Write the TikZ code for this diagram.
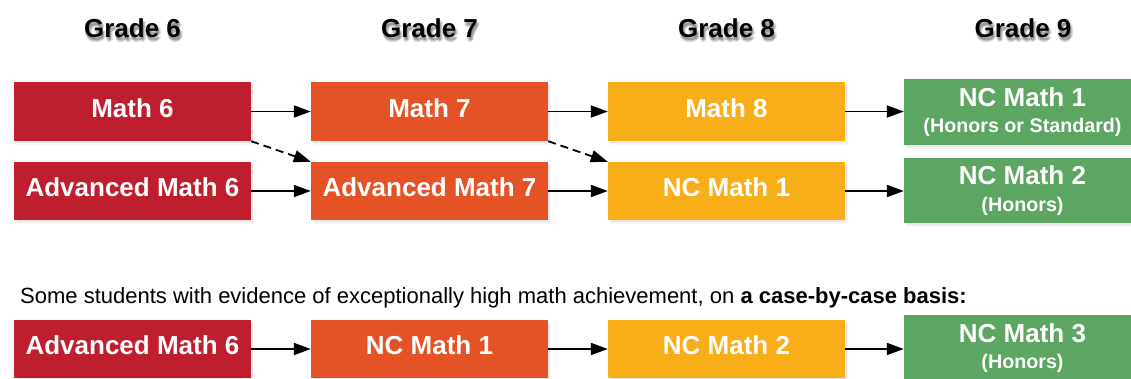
\documentclass[tikz,border=0pt]{standalone}
\usepackage{fontspec}
\setmainfont{Liberation Sans}
\usetikzlibrary{arrows.meta,shadows}
\definecolor{cred}{RGB}{190,30,46}
\definecolor{corange}{RGB}{229,82,37}
\definecolor{cyellow}{RGB}{248,174,24}
\definecolor{cgreen}{RGB}{93,165,98}
\newcommand{\subline}[1]{{\fontsize{19.7}{26.5}\selectfont #1}}
\begin{document}
\begin{tikzpicture}[x=1pt,y=-1pt,
  box/.style={rectangle, inner sep=0pt, minimum width=237pt, text=white,
    font=\bfseries\fontsize{26}{30}\selectfont, text height=17pt, text depth=6pt,
    drop shadow={shadow xshift=1.5pt, shadow yshift=-2pt, opacity=0.12},
    drop shadow={shadow xshift=3pt, shadow yshift=-3.5pt, opacity=0.07}},
  gbox/.style={rectangle, inner sep=0pt, minimum width=237pt, text=white, fill=cgreen,
    align=center, font=\bfseries\fontsize{26}{26.5}\selectfont,
    drop shadow={shadow xshift=1.5pt, shadow yshift=-2pt, opacity=0.12},
    drop shadow={shadow xshift=3pt, shadow yshift=-3.5pt, opacity=0.07}},
  hdr/.style={anchor=base, inner sep=0pt, font=\bfseries\fontsize{26}{30}\selectfont},
  hshadow/.style={hdr, text=black, opacity=0.12},
  arr/.style={line width=1.8pt, -{Triangle[length=17pt,width=12pt]}},
  darr/.style={arr, dash pattern=on 8pt off 5pt}
]
\useasboundingbox (0,0) rectangle (1131,378);
\clip (0,0) rectangle (1131,378);

% headers with soft shadows
\foreach \cx/\lab/\nm in {132.5/Grade 6/g6, 429.5/Grade 7/g7, 726.5/Grade 8/g8, 1023/Grade 9/g9}{
  \foreach \dx/\dy [count=\k] in {1/2,2/4,0/3,3/3,1/5}{
    \node[hshadow] (\nm s\k) at (\cx+\dx,37+\dy) {\lab};
  }
  \node[hdr] (\nm) at (\cx,37) {\lab};
}

% row 1
\node[box, fill=cred, minimum height=59pt] (m6) at (132.5,111.5) {Math 6};
\node[box, fill=corange, minimum height=59pt] (m7) at (429.5,111.5) {Math 7};
\node[box, fill=cyellow, minimum height=59pt] (m8) at (726.5,111.5) {Math 8};
\node[gbox, minimum height=66pt] (g1) at (1022.5,112) {NC Math 1\\ \subline{(Honors or Standard)}};

% row 2
\node[box, fill=cred, minimum height=58pt] (a6) at (132.5,191) {Advanced Math 6};
\node[box, fill=corange, minimum height=58pt] (a7) at (429.5,191) {Advanced Math 7};
\node[box, fill=cyellow, minimum height=58pt] (n1) at (726.5,191) {NC Math 1};
\node[gbox, minimum height=65pt] (g2) at (1022.5,190.5) {NC Math 2\\ \subline{(Honors)}};

% note
\node[anchor=base west, inner sep=0pt, font=\fontsize{22}{26}\selectfont] (note) at (20,303)
  {Some students with evidence of exceptionally high math achievement, on \textbf{a case-by-case basis:}};

% row 3
\node[box, fill=cred, minimum height=58pt] (r6) at (132.5,349) {Advanced Math 6};
\node[box, fill=corange, minimum height=58pt] (r7) at (429.5,349) {NC Math 1};
\node[box, fill=cyellow, minimum height=58pt] (r8) at (726.5,349) {NC Math 2};
\node[gbox, minimum height=66pt] (r9) at (1022.5,348) {NC Math 3\\ \subline{(Honors)}};

% arrows
\draw[arr] (m6.east) -- (m7.west);
\draw[arr] (m7.east) -- (m8.west);
\draw[arr] (m8.east) -- (m8.east -| g1.west);
\draw[arr] (a6.east) -- (a7.west);
\draw[arr] (a7.east) -- (n1.west);
\draw[arr] (n1.east) -- (n1.east -| g2.west);
\draw[darr] (m6.south east) -- (a7.north west);
\draw[darr] (m7.south east) -- (n1.north west);
\draw[arr] (r6.east) -- (r7.west);
\draw[arr] (r7.east) -- (r8.west);
\draw[arr] (r8.east) -- (r8.east -| r9.west);
\end{tikzpicture}
\end{document}
